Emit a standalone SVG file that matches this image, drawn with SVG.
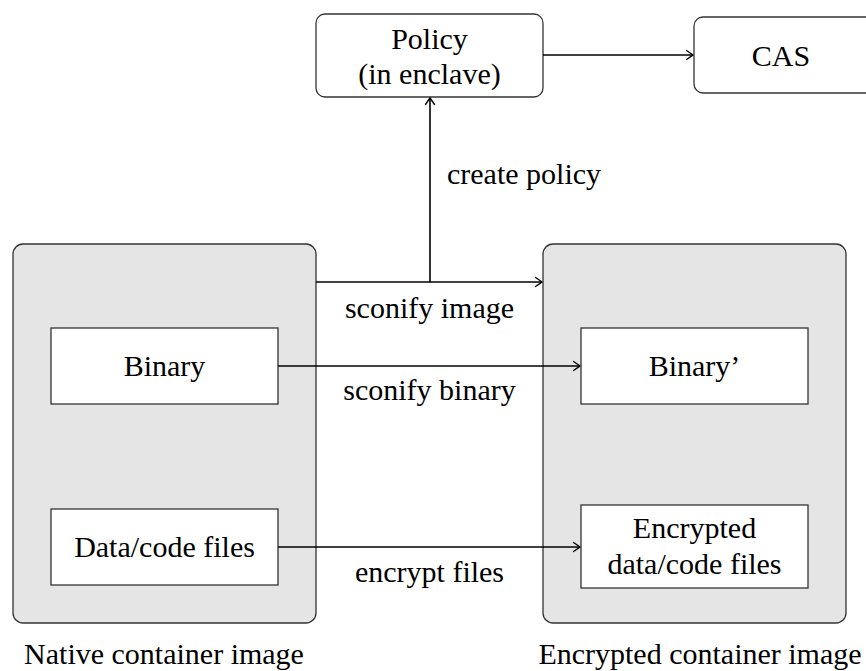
<svg xmlns="http://www.w3.org/2000/svg" width="866" height="671" viewBox="0 0 866 671">
  <style>
    .box { fill: #fff; stroke: #333; stroke-width: 1.3; }
    .image { fill: #e5e5e5; stroke: #333; stroke-width: 1.3; }
    .edge { fill: none; stroke: #000; stroke-width: 1.6; }
  </style>
  <defs>
    <marker id="arrow" viewBox="-8 -6 10 12" refX="0" refY="0" markerWidth="10" markerHeight="12" markerUnits="userSpaceOnUse" orient="auto">
      <path d="M -6.5 -4.5 Q -2 -1.5 0 0 Q -2 1.5 -6.5 4.5" fill="none" stroke="#000" stroke-width="1.4" stroke-linecap="round"/>
    </marker>
  </defs>
  <rect width="866" height="671" fill="#fff"/>

  <!-- container images -->
  <g id="native-image">
    <rect class="image" x="13" y="244" width="303" height="379" rx="10"/>
    <text x="164" y="664" font-family="'Liberation Serif'" font-size="30" text-anchor="middle">Native container image</text>
  </g>
  <g id="encrypted-image">
    <rect class="image" x="543" y="244" width="303" height="379" rx="10"/>
    <text x="700" y="664" font-family="'Liberation Serif'" font-size="30" text-anchor="middle">Encrypted container image</text>
  </g>

  <!-- policy and CAS -->
  <g id="policy">
    <rect class="box" x="316" y="14" width="227" height="83" rx="9"/>
    <text x="429.5" y="49" font-family="'Liberation Serif'" font-size="30" text-anchor="middle">Policy</text>
    <text x="429.5" y="84" font-family="'Liberation Serif'" font-size="30" text-anchor="middle">(in enclave)</text>
  </g>
  <g id="cas">
    <rect class="box" x="694" y="17" width="190" height="76" rx="9"/>
    <text x="781" y="66" font-family="'Liberation Serif'" font-size="30" text-anchor="middle">CAS</text>
  </g>

  <!-- contents -->
  <g id="binary">
    <rect class="box" x="51" y="328" width="227" height="76"/>
    <text x="164.5" y="376" font-family="'Liberation Serif'" font-size="30" text-anchor="middle">Binary</text>
  </g>
  <g id="binary-prime">
    <rect class="box" x="581" y="328" width="227" height="76"/>
    <text x="694.5" y="376" font-family="'Liberation Serif'" font-size="30" text-anchor="middle">Binary’</text>
  </g>
  <g id="data-files">
    <rect class="box" x="51" y="509" width="227" height="76"/>
    <text x="164.5" y="557" font-family="'Liberation Serif'" font-size="30" text-anchor="middle">Data/code files</text>
  </g>
  <g id="encrypted-files">
    <rect class="box" x="581" y="505" width="227" height="83"/>
    <text x="694.5" y="538" font-family="'Liberation Serif'" font-size="30" text-anchor="middle">Encrypted</text>
    <text x="694.5" y="574" font-family="'Liberation Serif'" font-size="30" text-anchor="middle">data/code files</text>
  </g>

  <!-- connectors -->
  <g id="connectors">
    <line class="edge" x1="543" y1="55" x2="693" y2="55" marker-end="url(#arrow)"/>
    <line class="edge" x1="316" y1="282" x2="542" y2="282" marker-end="url(#arrow)"/>
    <line class="edge" x1="430" y1="282" x2="430" y2="98" marker-end="url(#arrow)"/>
    <line class="edge" x1="278" y1="366" x2="580" y2="366" marker-end="url(#arrow)"/>
    <line class="edge" x1="278" y1="547" x2="580" y2="547" marker-end="url(#arrow)"/>
    <text x="524" y="184" font-family="'Liberation Serif'" font-size="30" text-anchor="middle">create policy</text>
    <text x="429.5" y="318" font-family="'Liberation Serif'" font-size="30" text-anchor="middle">sconify image</text>
    <text x="429.5" y="400" font-family="'Liberation Serif'" font-size="30" text-anchor="middle">sconify binary</text>
    <text x="429.5" y="582" font-family="'Liberation Serif'" font-size="30" text-anchor="middle">encrypt files</text>
  </g>
</svg>
